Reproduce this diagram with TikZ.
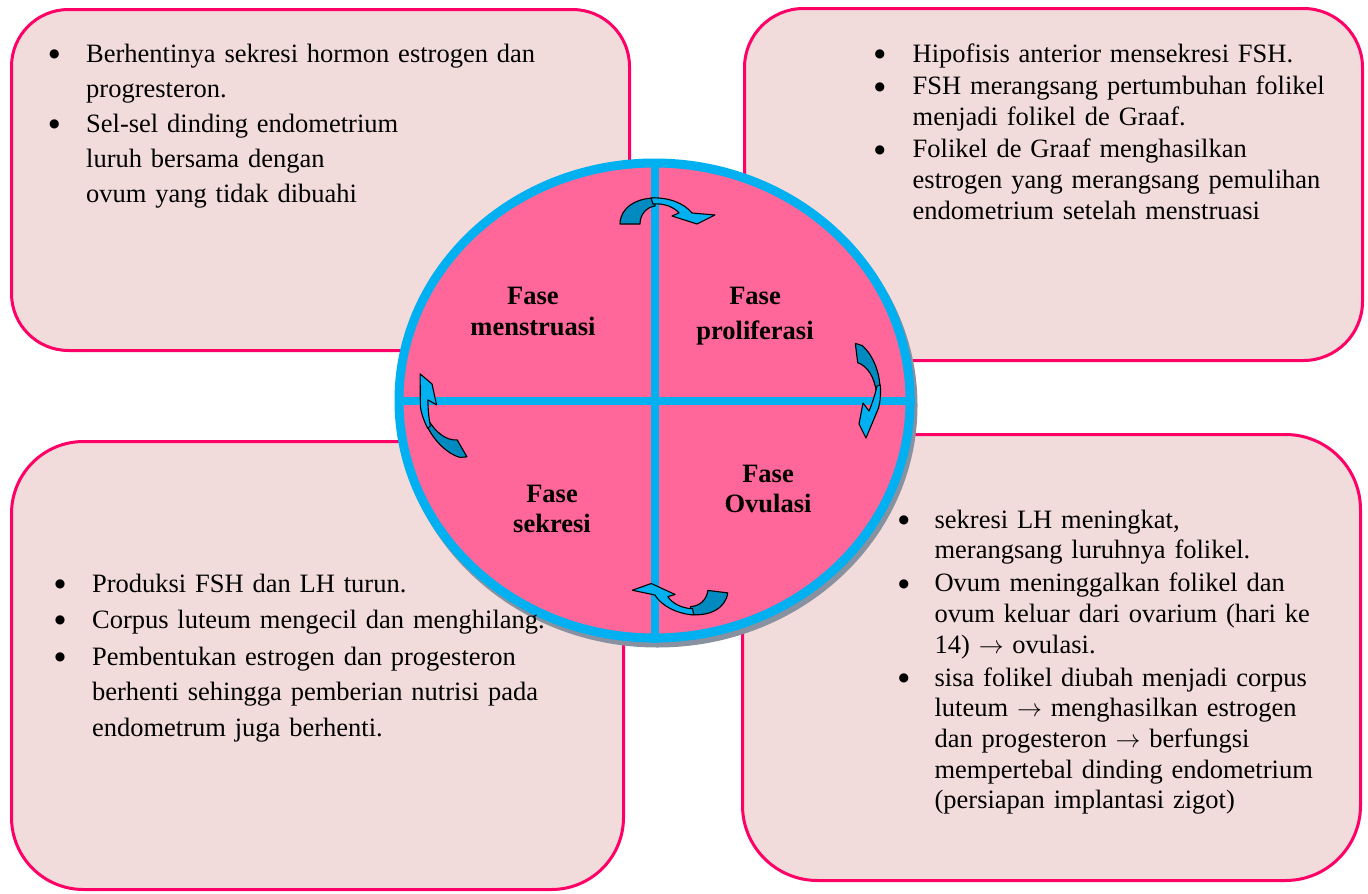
\documentclass[tikz,border=0pt]{standalone}
\usepackage{fontspec}
\setmainfont{Liberation Serif}
\newfontfamily\dotfont{DejaVu Sans}
\usetikzlibrary{shapes.geometric}

\definecolor{cardfill}{RGB}{242,220,219}
\definecolor{cardedge}{RGB}{255,0,102}
\definecolor{phasepink}{RGB}{255,102,153}
\definecolor{ringblue}{RGB}{0,176,240}
\definecolor{arrowdark}{RGB}{0,138,192}
\definecolor{shadowgrey}{RGB}{135,145,160}

% bullet hung in the left margin set by \leftskip
\newcommand\bulletbox{\hbox to 0pt{\hss\hbox to\leftskip{\hskip-0.6pt\raisebox{4.6pt}{\dotfont\fontsize{12}{0}\selectfont ●}\hss}}}
\newcommand\firstitm{\noindent\bulletbox}
\newcommand\itm{\par\noindent\bulletbox}
\newcommand\ar{$\rightarrow$}

\tikzset{
  % curved arrow bending over the top, head pointing down on the right
  pics/turnarrow/.style={code={
    \filldraw[arrowpart, fill=arrowdark]
      (-40,0) .. controls (-40,-16) and (-24,-26) .. (-5,-26) -- (-5,-18)
      .. controls (-13,-17) and (-20,-10) .. (-20,0) -- cycle;
    \filldraw[arrowpart, fill=ringblue]
      (-9,-26) .. controls (8,-27) and (24,-21) .. (32,-11) -- (55,-9) -- (37,0)
      -- (12,-8) -- (19,-11) .. controls (14,-17) and (4,-21) .. (-7,-20) -- cycle;
  }},
  % curved arrow bulging to the right, head pointing down
  pics/bendarrow/.style={code={
    \filldraw[arrowpart, fill=arrowdark]
      (-0.2,-9.7) -- (6.5,-7.5) .. controls (16,0) and (24.5,18) .. (24.5,36)
      -- (21,40) .. controls (19,24) and (12,13) .. (2.2,9.7) -- cycle;
    \filldraw[arrowpart, fill=ringblue]
      (24.8,32) .. controls (25.5,42) and (24.5,50) .. (23,55) -- (10.5,85)
      -- (3.5,71) -- (7.5,50) -- (13.5,58) .. controls (16,52) and (19,44) .. (21.5,33) -- cycle;
  }}
}

\begin{document}
\begin{tikzpicture}[x=1pt,y=-1pt,
  card/.style={draw=cardedge, fill=cardfill, line width=3pt, inner sep=0pt, rectangle},
  cardtext/.style={anchor=base west, inner sep=0pt, text width=600pt},
  phase/.style={anchor=base, inner sep=0pt, font=\bfseries\fontsize{26.5}{30}\selectfont},
  arrowpart/.style={draw=black, line width=1.1pt, line join=round},
  cross/.style={draw=ringblue, line width=8pt}
]
\useasboundingbox (0,0) rectangle (1368,894);

% four text cards
\node[card, minimum width=618pt, minimum height=341pt, rounded corners=57pt] (tlbox) at (320.5,180) {};
\node[card, minimum width=618pt, minimum height=352pt, rounded corners=59pt] (trbox) at (1053.5,184.5) {};
\node[card, minimum width=612pt, minimum height=448pt, rounded corners=72pt] (blbox) at (317.5,665.5) {};
\node[card, minimum width=618pt, minimum height=446pt, rounded corners=75pt] (brbox) at (1051.5,657.5) {};

% cycle disc with its shadow and quadrant lines
\fill[shadowgrey] (657.5,405.5) ellipse [x radius=260, y radius=242];
\node[ellipse, draw=ringblue, fill=phasepink, line width=9pt, inner sep=0pt,
      minimum width=511pt, minimum height=475pt] (cyc) at (654.5,400.5) {};
\draw[cross] (cyc.north) -- (cyc.south);
\draw[cross] (cyc.west) -- (cyc.east);

% turning arrows between the phases
\pic at (660,224) {turnarrow};
\pic[rotate=173] at (688,588) {turnarrow};
\pic at (855.5,353) {bendarrow};
\pic[rotate=-157] at (463,448) {bendarrow};

% phase names
\node[phase] (m1) at (533,304) {Fase};
\node[phase] (m2) at (533,335) {menstruasi};
\node[phase] (p1) at (755,304) {Fase};
\node[phase] (p2) at (755,339) {proliferasi};
\node[phase] (s1) at (552,502) {Fase};
\node[phase] (s2) at (552,532) {sekresi};
\node[phase] (o1) at (768,482) {Fase};
\node[phase] (o2) at (768,512) {Ovulasi};

% card texts
\node[cardtext, font=\fontsize{26.5}{35.2}\selectfont] (tltext) at (49.4,62) {%
  \setlength\leftskip{36.6pt}\setlength\parskip{0pt}%
  \firstitm Berhentinya sekresi hormon estrogen dan\\ progresteron.
  \itm Sel-sel dinding endometrium\\ luruh bersama dengan\\ ovum yang tidak dibuahi\par};

\node[cardtext, font=\fontsize{26.5}{30.6}\selectfont] (trtext) at (875,62) {%
  \setlength\leftskip{37.5pt}\setlength\parskip{2pt}%
  \firstitm Hipofisis anterior mensekresi FSH.
  \itm FSH merangsang pertumbuhan folikel\\ menjadi folikel de Graaf.
  \itm Folikel de Graaf menghasilkan\\ estrogen yang merangsang pemulihan\\ endometrium setelah menstruasi\par};

\node[cardtext, font=\fontsize{26.5}{35.5}\selectfont] (bltext) at (55.2,592) {%
  \setlength\leftskip{36.7pt}\setlength\parskip{1pt}%
  \firstitm Produksi FSH dan LH turun.
  \itm Corpus luteum mengecil dan menghilang.
  \itm Pembentukan estrogen dan progesteron\\ berhenti sehingga pemberian nutrisi pada\\ endometrum juga berhenti.\par};

\node[cardtext, font=\fontsize{26.5}{30.6}\selectfont] (brtext) at (899,528) {%
  \setlength\leftskip{35.4pt}\setlength\parskip{2.6pt}%
  \firstitm sekresi LH meningkat,\\ merangsang luruhnya folikel.
  \itm Ovum meninggalkan folikel dan\\ ovum keluar dari ovarium (hari ke\\ 14) \ar{} ovulasi.
  \itm sisa folikel diubah menjadi corpus\\ luteum \ar{} menghasilkan estrogen\\ dan progesteron \ar{} berfungsi\\ mempertebal dinding endometrium\\ (persiapan implantasi zigot)\par};
\end{tikzpicture}
\end{document}
